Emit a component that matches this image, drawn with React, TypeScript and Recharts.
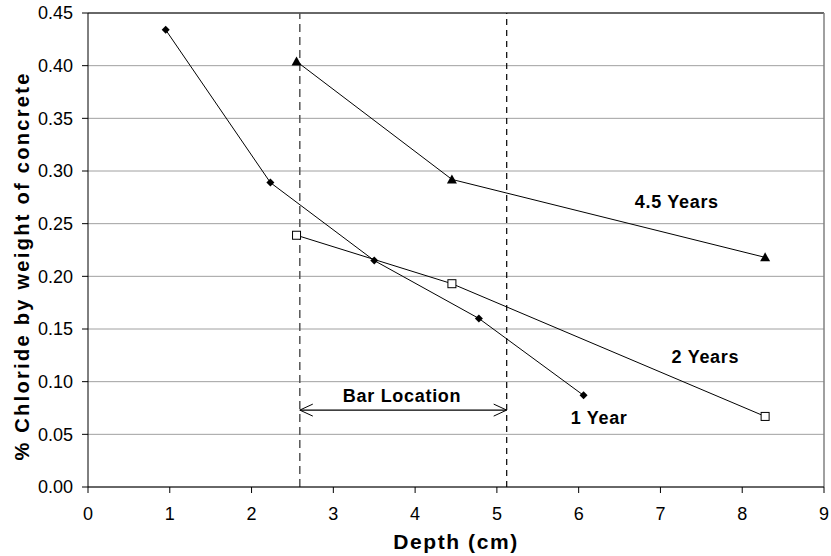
import React from 'react';
import { LineChart, Line, XAxis, YAxis, CartesianGrid, ReferenceLine, ReferenceDot } from 'recharts';

// depth (cm) vs % chloride
const oneYearDepth = [0.95, 2.23, 3.5, 4.78, 6.06];
const oneYearCl = [0.434, 0.289, 0.215, 0.160, 0.087];

const twoYearDepth = [2.55, 4.45, 8.28];
const twoYearCl = [0.239, 0.193, 0.067];

const fourHalfDepth = [2.55, 4.45, 8.28];
const fourHalfCl = [0.404, 0.292, 0.218];

const barEdges = [2.59, 5.12];
const barArrowY = 0.073;

const xTicks = [0, 1, 2, 3, 4, 5, 6, 7, 8, 9];
const yTicks = [0, 0.05, 0.1, 0.15, 0.2, 0.25, 0.3, 0.35, 0.4, 0.45];

const labelText = ['4.5 Years', '2 Years', '1 Year', 'Bar Location'];
const labelX = [7.2, 7.55, 6.25, 3.84];
const labelY = [0.271, 0.124, 0.066, 0.087];

const FONT = '"Liberation Sans", Arial, sans-serif';

const toPts = (xs: number[], ys: number[]) => xs.map((x, i) => ({ x, y: ys[i] }));

const oneYear = toPts(oneYearDepth, oneYearCl);
const twoYear = toPts(twoYearDepth, twoYearCl);
const fourHalf = toPts(fourHalfDepth, fourHalfCl);
const arrowData = barEdges.map((x) => ({ x, y: barArrowY }));

const Diamond = (p: any) => {
    const { cx, cy, index } = p;
    return <path key={'d' + index} d={`M${cx},${cy - 4}L${cx + 4},${cy}L${cx},${cy + 4}L${cx - 4},${cy}Z`} fill="#000" />;
};

const Square = (p: any) => {
    const { cx, cy, index } = p;
    return <rect key={'s' + index} x={cx - 4} y={cy - 4} width={8} height={8} fill="#fff" stroke="#000" strokeWidth={1} />;
};

const Triangle = (p: any) => {
    const { cx, cy, index } = p;
    return <path key={'t' + index} d={`M${cx},${cy - 5}L${cx + 5},${cy + 4}L${cx - 5},${cy + 4}Z`} fill="#000" />;
};

const ArrowHead = (p: any) => {
    const { cx, cy, index } = p;
    const dir = index === 0 ? 1 : -1;
    return (
        <polyline
            key={'a' + index}
            points={`${cx + dir * 13},${cy - 6} ${cx},${cy} ${cx + dir * 13},${cy + 6}`}
            fill="none"
            stroke="#000"
            strokeWidth={1}
        />
    );
};

export default function App() {
    return (
        <div style={{ position: 'absolute', left: 0, top: 0, width: 831, height: 556, background: '#fff' }}>
            <LineChart width={831} height={556} margin={{ top: 13, right: 7, bottom: 0, left: 0 }}>
                <CartesianGrid vertical={false} stroke="#a0a0a0" strokeWidth={1} />
                <XAxis
                    type="number"
                    dataKey="x"
                    domain={[0, 9]}
                    ticks={xTicks}
                    height={69}
                    stroke="#000"
                    tickSize={6}
                    tickMargin={14}
                    tick={{ fill: '#000', fontSize: 18, fontFamily: FONT }}
                    label={{ value: 'Depth (cm)', position: 'center', dy: 20, fill: '#000', fontSize: 21, fontWeight: 'bold', letterSpacing: 1.6, fontFamily: FONT }}
                />
                <YAxis
                    type="number"
                    domain={[0, 0.45]}
                    ticks={yTicks}
                    width={88}
                    stroke="#000"
                    tickSize={6}
                    tickMargin={9}
                    tickFormatter={(v: number) => v.toFixed(2)}
                    tick={{ fill: '#000', fontSize: 18, fontFamily: FONT }}
                    label={{ value: '% Chloride by weight of concrete', angle: -90, position: 'center', dx: -22, dy: 16, fill: '#000', fontSize: 20, fontWeight: 'bold', letterSpacing: 2.3, fontFamily: FONT }}
                />
                <ReferenceLine y={0.45} stroke="#000" strokeWidth={1} />
                <ReferenceLine x={9} stroke="#808080" strokeWidth={1.5} />
                <ReferenceLine x={barEdges[0]} stroke="#555" strokeWidth={1.5} strokeDasharray="8 5" />
                <ReferenceLine x={barEdges[1]} stroke="#000" strokeWidth={1.2} strokeDasharray="6 5" />

                <Line data={oneYear} dataKey="y" stroke="#000" strokeWidth={1} dot={Diamond} activeDot={false} isAnimationActive={false} />
                <Line data={twoYear} dataKey="y" stroke="#000" strokeWidth={1} dot={Square} activeDot={false} isAnimationActive={false} />
                <Line data={fourHalf} dataKey="y" stroke="#000" strokeWidth={1} dot={Triangle} activeDot={false} isAnimationActive={false} />
                <Line data={arrowData} dataKey="y" stroke="#000" strokeWidth={1.2} dot={ArrowHead} activeDot={false} isAnimationActive={false} />

                {labelText.map((t, i) => (
                    <ReferenceDot
                        key={t}
                        x={labelX[i]}
                        y={labelY[i]}
                        r={1}
                        fill="none"
                        stroke="none"
                        label={{ value: t, position: 'center', fill: '#000', fontSize: 18, fontWeight: 'bold', letterSpacing: 0.7, fontFamily: FONT }}
                    />
                ))}
            </LineChart>
        </div>
    );
}
